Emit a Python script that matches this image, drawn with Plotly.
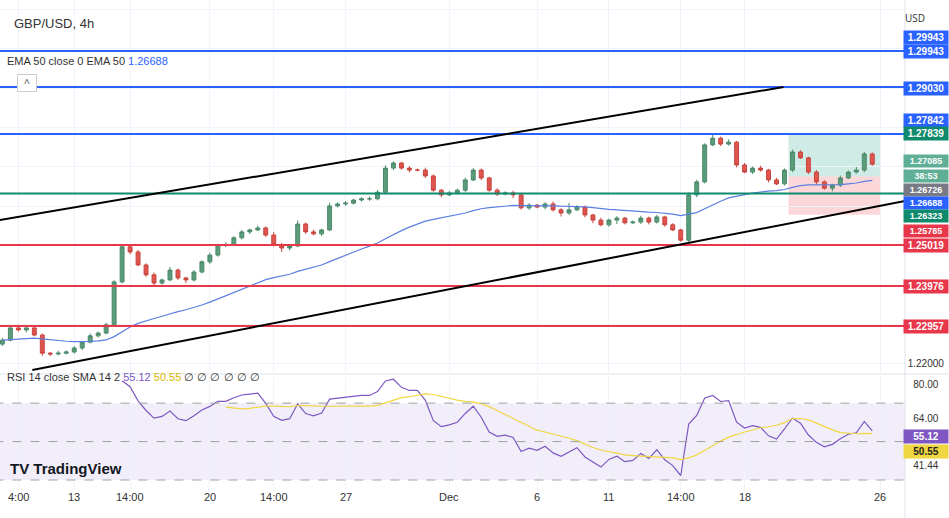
import plotly.graph_objects as go
import numpy as np

closes = [1.2260,1.2291,1.2286,1.2291,1.2273,1.2227,1.2225,1.2227,1.2230,1.2240,1.2255,1.2271,1.2278,1.2299,
          1.2408,1.2497,1.2484,1.2451,1.2426,1.2405,1.2413,1.2438,1.2418,1.2413,1.2433,1.2459,1.2476,1.2502,
          1.2502,1.2520,1.2535,1.2540,1.2545,1.2527,1.2502,1.2494,1.2499,1.2555,1.2535,1.2530,1.2540,1.2601,
          1.2606,1.2608,1.2616,1.2619,1.2619,1.2636,1.2697,1.2710,1.2697,1.2692,1.2692,1.2677,1.2641,1.2629,
          1.2634,1.2641,1.2667,1.2692,1.2672,1.2641,1.2631,1.2634,1.2629,1.2596,1.2603,1.2598,1.2606,1.2591,
          1.2583,1.2591,1.2598,1.2578,1.2565,1.2553,1.2565,1.2570,1.2558,1.2560,1.2570,1.2560,1.2573,1.2553,
          1.2540,1.2514,1.2629,1.2662,1.2756,1.2773,1.2758,1.2763,1.2705,1.2687,1.2697,1.2692,1.2667,1.2657,
          1.2692,1.2738,1.2723,1.2687,1.2662,1.2646,1.2654,1.2672,1.2687,1.2692,1.2733,1.2707]
first_open = 1.2250
wick_up = [6,4,8,3,5,4,3,6,4,5,3,6,4,5,4,6,3,5,4,6,3,8,4,3,5,4,6,3,7,4,5,3,6,4,8,5,3,9,4,6,
           3,8,4,5,3,4,6,5,7,4,3,5,4,6,4,3,5,4,6,5,4,3,5,4,6,4,5,3,4,6,4,18,5,4,3,6,4,5,3,4,
           6,4,5,3,4,3,6,5,4,9,4,7,3,5,4,6,3,5,4,6,4,3,5,4,3,6,4,8,5,4]
wick_dn = [5,3,4,6,3,7,5,4,3,4,5,3,4,3,5,4,6,3,5,7,4,3,5,8,4,3,5,4,6,3,4,5,3,5,4,10,6,3,5,4,
           6,3,4,5,3,4,5,4,3,5,4,6,3,5,4,6,3,4,5,3,6,4,5,3,8,4,5,3,6,4,9,5,3,6,8,4,5,10,4,3,
           5,6,4,5,3,4,5,6,4,3,5,4,6,3,5,4,6,3,4,5,3,5,6,4,8,5,3,4,5,4]
levels_blue = [1.29943, 1.29030, 1.27839]
level_green = 1.26323
levels_red = [1.25019, 1.23976, 1.22957]
tick_pos = [2, 9, 16, 26, 34, 43, 56, 67, 76, 85, 93, 110]
tick_text = ["4:00", "13", "14:00", "20", "14:00", "27", "Dec", "6", "11", "14:00", "18", "26"]

n = len(closes)
idx = np.arange(n)
c = np.array(closes)
o = np.concatenate([[first_open], c[:-1]])
h = np.maximum(o, c) + np.array(wick_up) / 10000
l = np.minimum(o, c) - np.array(wick_dn) / 10000

alpha = 2 / (34 + 1)
ema = [c[0]]
for v in c[1:]:
    ema.append(alpha * v + (1 - alpha) * ema[-1])
d = np.diff(c)
g = np.where(d > 0, d, 0); ls = np.where(d < 0, -d, 0)
ag, al = g[:14].mean(), ls[:14].mean()
rsi = [np.nan] * 15
for i in range(14, len(d)):
    ag = (ag * 13 + g[i]) / 14; al = (al * 13 + ls[i]) / 14
    rsi.append(100 - 100 / (1 + ag / al if al > 0 else 1e9))
rsi = np.array(rsi[:n])
rsi_sma = np.array([np.nan if i < 28 else np.nanmean(rsi[i-13:i+1]) for i in range(n)])

def px2price(y):
    return 1.3124 - 0.000254 * y
def py(y):
    return 1 - y / 518

fig = go.Figure()
fig.add_trace(go.Candlestick(x=idx, open=o, high=h, low=l, close=c,
    increasing=dict(line=dict(color="#4c8a6a", width=1), fillcolor="#5b9c7a"),
    decreasing=dict(line=dict(color="#c8453f", width=1), fillcolor="#e0564f"),
    whiskerwidth=0, xaxis="x", yaxis="y", showlegend=False))
fig.add_trace(go.Scatter(x=idx, y=ema, mode="lines", line=dict(color="#5b7fe0", width=1.2),
    xaxis="x", yaxis="y", showlegend=False))
fig.add_trace(go.Scatter(x=idx, y=rsi, mode="lines", line=dict(color="#7e57c2", width=1.2),
    xaxis="x2", yaxis="y2", showlegend=False))
fig.add_trace(go.Scatter(x=idx, y=rsi_sma, mode="lines", line=dict(color="#f0d640", width=1.2),
    xaxis="x2", yaxis="y2", showlegend=False))

shapes = []
X1 = 113.1
for lv in levels_blue:
    shapes.append(dict(type="line", xref="x", yref="y", x0=-1, x1=X1, y0=lv, y1=lv, line=dict(color="#2962ff", width=2)))
shapes.append(dict(type="line", xref="x", yref="y", x0=-1, x1=X1, y0=level_green, y1=level_green, line=dict(color="#0f8a6c", width=2)))
for lv in levels_red:
    shapes.append(dict(type="line", xref="x", yref="y", x0=-1, x1=X1, y0=lv, y1=lv, line=dict(color="#e8364a", width=2)))
shapes.append(dict(type="line", xref="x", yref="y", x0=-1, x1=783/8, y0=px2price(221), y1=px2price(87), line=dict(color="black", width=2)))
shapes.append(dict(type="line", xref="x", yref="y", x0=30/8, x1=X1, y0=px2price(370), y1=px2price(201), line=dict(color="black", width=2)))
shapes.append(dict(type="rect", xref="x", yref="y", x0=788/8, x1=880/8, y0=1.2676, y1=1.27839, fillcolor="rgba(8,153,129,0.2)", line=dict(width=0), layer="below"))
shapes.append(dict(type="rect", xref="x", yref="y", x0=788/8, x1=880/8, y0=1.25785, y1=1.2676, fillcolor="rgba(242,54,69,0.2)", line=dict(width=0), layer="below"))
shapes.append(dict(type="rect", xref="x2", yref="y2", x0=-1, x1=X1, y0=30, y1=70, fillcolor="rgba(126,87,194,0.1)", line=dict(width=0), layer="below"))
for lv in [70, 50, 30]:
    shapes.append(dict(type="line", xref="x2", yref="y2", x0=-1, x1=X1, y0=lv, y1=lv, line=dict(color="#a0a0a0", width=1, dash="dash")))
shapes.append(dict(type="line", xref="paper", yref="paper", x0=0, x1=1, y0=py(374), y1=py(374), line=dict(color="#e0e3eb", width=1)))
shapes.append(dict(type="line", xref="paper", yref="paper", x0=905/949, x1=905/949, y0=0, y1=1, line=dict(color="#e0e3eb", width=1)))

anns = []
def lab(ypx, text, bg, fc="white", size=10):
    anns.append(dict(x=1, xref="paper", xanchor="right", y=py(ypx), yref="paper", yanchor="middle",
        text="<b>" + text + "</b>" if bg else text,
        showarrow=False, bgcolor=bg, font=dict(color=fc, size=size, family="Liberation Sans"),
        borderpad=1, width=42, align="center"))

lab(38, "1.29943", "#2962ff")
lab(51, "1.29943", "#2962ff")
lab(88, "1.29030", "#2962ff")
lab(121, "1.27842", "#2962ff")
lab(134, "1.27839", "#0f8a6c")
lab(161, "1.27085", "#5fae96", "white", 9)
lab(176, "38:53", "#5fae96", "white", 9)
lab(190, "1.26726", "#787b86", "white", 9)
lab(203, "1.26688", "#2962ff", "white", 9)
lab(216, "1.26323", "#0f8a6c", "white", 9)
lab(231, "1.25785", "#e8364a", "white", 9)
lab(245, "1.25019", "#e8364a")
lab(286, "1.23976", "#e8364a")
lab(326, "1.22957", "#e8364a")
lab(363, "1.22000", None, "#333")
lab(384, "80.00", None, "#333")
lab(418, "64.00", None, "#333")
lab(436, "55.12", "#7e57c2", "white")
lab(451, "50.55", "#f0d640", "#222")
lab(465, "41.44", None, "#333")
anns.append(dict(x=927/949, xref="paper", y=py(9), yref="paper", text="USD", showarrow=False, font=dict(size=10, color="#333")))
anns.append(dict(x=12/949, xref="paper", xanchor="left", y=py(14), yref="paper", text="GBP/USD, 4h", showarrow=False, font=dict(size=13, color="#333", family="Liberation Sans")))
anns.append(dict(x=5/949, xref="paper", xanchor="left", y=py(53), yref="paper", text="EMA 50 close 0 EMA 50 <span style='color:#2962ff'>1.26688</span>", showarrow=False, bgcolor="white", font=dict(size=11, color="#333", family="Liberation Sans")))
anns.append(dict(x=17/949, xref="paper", y=py(74), yref="paper", text="^", showarrow=False, bordercolor="#ccc", borderwidth=1, bgcolor="white", font=dict(size=10, color="#333"), width=16))
anns.append(dict(x=5/949, xref="paper", xanchor="left", y=py(385), yref="paper",
    text="RSI 14 close SMA 14 2 <span style='color:#7e57c2'>55.12</span> <span style='color:#d9b800'>50.55</span> ∅ ∅ ∅ ∅ ∅ ∅", showarrow=False, font=dict(size=11, color="#333", family="Liberation Sans")))
anns.append(dict(x=8/949, xref="paper", xanchor="left", y=py(479), yref="paper", text="<b>TV TradingView</b>", showarrow=False, font=dict(size=15, color="#131722", family="Liberation Sans")))
for tp, tt in zip(tick_pos, tick_text):
    anns.append(dict(x=tp, xref="x2", y=py(505), yref="paper", text=tt, showarrow=False, font=dict(size=11, color="#333", family="Liberation Sans")))

fig.update_layout(width=949, height=518, margin=dict(l=0, r=0, t=0, b=0),
    plot_bgcolor="white", paper_bgcolor="white", shapes=shapes, annotations=anns,
    xaxis=dict(domain=[0, 905/949], range=[-0.3, X1], rangeslider=dict(visible=False), showticklabels=False,
               tickvals=tick_pos, showgrid=True, gridcolor="#f0f3fa", zeroline=False, anchor="y"),
    yaxis=dict(domain=[py(372), 1], range=[px2price(372), px2price(0)], showticklabels=False,
               dtick=0.01, showgrid=True, gridcolor="#f0f3fa", zeroline=False),
    xaxis2=dict(domain=[0, 905/949], range=[-0.3, X1], showticklabels=False, tickvals=tick_pos,
                showgrid=True, gridcolor="#f0f3fa", zeroline=False, anchor="y2", matches="x"),
    yaxis2=dict(domain=[py(490), py(377)], range=[24.8, 83.6], showticklabels=False,
                showgrid=False, zeroline=False))
fig.write_html("out.html", config={"displayModeBar": False})
with open("out.html") as f:
    s = f.read()
s = s.replace("<body>", "<body style='margin:0;overflow:hidden'>", 1)
with open("out.html", "w") as f:
    f.write(s)
